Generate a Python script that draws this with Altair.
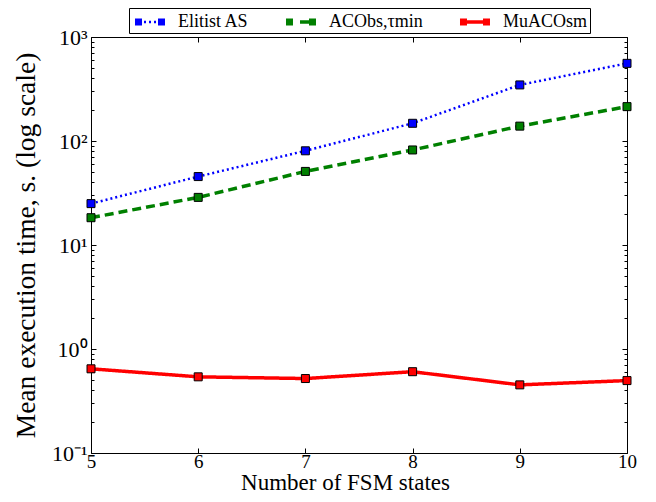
import altair as alt
import pandas as pd

# ---- data ----
states = [5, 6, 7, 8, 9, 10]
series_names = ["Elitist AS", "ACObs,τmin", "MuACOsm"]
elitist_as = [25.0, 45.5, 80.5, 148.0, 346.0, 558.0]
aco_bs_tmin = [18.3, 28.7, 51.0, 82.0, 139.0, 214.0]
muaco_sm = [0.645, 0.54, 0.52, 0.605, 0.452, 0.497]

x_tick_values = [5, 6, 7, 8, 9, 10]
y_major_ticks = [0.1, 1, 10, 100, 1000]
y_minor_ticks = [0.2, 0.3, 0.4, 0.5, 0.6, 0.7, 0.8, 0.9,
                 2, 3, 4, 5, 6, 7, 8, 9,
                 20, 30, 40, 50, 60, 70, 80, 90,
                 200, 300, 400, 500, 600, 700, 800, 900]

# ---- styles ----
colors = ["#0000ff", "#008000", "#ff0000"]
dash_styles = [[2, 3], [9, 5], [1, 0]]
line_widths = [2.5, 3.5, 3.5]
SQ_L = "M-0.667,-0.292h0.583v0.583h-0.583Z"
SQ_R = "M1.25,-0.292h0.583v0.583h-0.583Z"
legend_paths = [
    SQ_L + SQ_R + "M0.083,-0.104h0.167v0.208h-0.167Z"
    "M0.5,-0.104h0.167v0.208h-0.167Z"
    "M0.917,-0.104h0.167v0.208h-0.167Z",
    SQ_L + SQ_R + "M0.5,-0.146h0.75v0.292h-0.75Z",
    SQ_L + SQ_R + "M-0.083,-0.146h1.333v0.292h-1.333Z",
]
FONT = "Liberation Serif"
W, H = 536, 416

rows = []
for name, vals in zip(series_names, [elitist_as, aco_bs_tmin, muaco_sm]):
    for s, v in zip(states, vals):
        rows.append({"series": name, "states": s, "time": v})
df = pd.DataFrame(rows)

xscale = alt.Scale(domain=[5, 10], nice=False, zero=False)
yscale = alt.Scale(type="log", domain=[0.1, 1000], nice=False)
cscale = alt.Scale(domain=series_names, range=colors)

label_expr = ("datum.value == 1000 ? '10\u00b3' : datum.value == 100 ? '10\u00b2' : "
              "datum.value == 10 ? '10\u00b9' : datum.value == 1 ? '10\u2070' : '10\u207b\u00b9'")

COMMON = dict(domain=False, grid=False, labelFlush=False, labelOverlap=False,
              tickColor="black", tickWidth=1)


def tick_axis(orient, values, size, offset):
    # inward ticks: axis on the opposite side, moved onto this edge
    return alt.Axis(orient=orient, values=values, tickSize=size, offset=offset,
                    labels=False, title=None, **COMMON)


ax_bottom_labels = alt.Axis(orient="bottom", values=x_tick_values, format="d", tickSize=0,
                            labelFontSize=19, labelPadding=-1, title="Number of FSM states",
                            titleFontSize=23, titleX=254, titleY=41, titleBaseline="bottom",
                            **COMMON)
ax_left_labels = alt.Axis(orient="left", values=y_major_ticks, labelExpr=label_expr, tickSize=0,
                          labelFontSize=22, labelPadding=4,
                          title="Mean execution time, s. (log scale)", titleFontSize=27.5,
                          titleX=-65, titleY=208, titleBaseline="middle", **COMMON)
ax_bottom_ticks = tick_axis("top", x_tick_values, 5, -H)
ax_top_ticks = tick_axis("bottom", x_tick_values, 5, -H)
ax_left_major = tick_axis("right", y_major_ticks, 5, -W)
ax_right_major = tick_axis("left", y_major_ticks, 5, -W)
ax_left_minor = tick_axis("right", y_minor_ticks, 3, -W)
ax_right_minor = tick_axis("left", y_minor_ticks, 3, -W)

x_axes = [ax_bottom_labels, ax_bottom_ticks, ax_top_ticks]
y_axes = [ax_left_labels, ax_left_major, ax_right_major]

base = alt.Chart(df)
leg = alt.Legend(orient="none", legendX=38, legendY=-29, direction="horizontal", title=None,
                 strokeColor="black", fillColor="white", padding=2, symbolSize=576,
                 symbolStrokeWidth=0, symbolOpacity=1, labelFont=FONT, labelFontSize=18,
                 labelColor="black", labelOffset=23, columnPadding=33, labelLimit=400,
                 cornerRadius=0)
layers = [
    base.transform_filter("false").mark_point(filled=True, opacity=1)
    .encode(
        color=alt.Color("series:N", scale=cscale, legend=leg),
        shape=alt.Shape("series:N", scale=alt.Scale(domain=series_names, range=legend_paths),
                        legend=leg),
    )
]
for i, name in enumerate(series_names):
    layers.append(
        base.transform_filter(alt.datum.series == name)
        .mark_line(strokeDash=dash_styles[i], strokeWidth=line_widths[i])
        .encode(
            x=alt.X("states:Q", scale=xscale, axis=x_axes[i]),
            y=alt.Y("time:Q", scale=yscale, axis=y_axes[i]),
            color=alt.Color("series:N", scale=cscale, legend=None),
        )
    )
layers.append(
    base.mark_square(size=64, opacity=1, filled=True, stroke="black", strokeWidth=1)
    .encode(
        x=alt.X("states:Q", scale=xscale, axis=None),
        y=alt.Y("time:Q", scale=yscale, axis=ax_left_minor),
        color=alt.Color("series:N", scale=cscale, legend=None),
    )
)
layers.append(
    base.transform_filter("false").mark_point(opacity=0)
    .encode(y=alt.Y("time:Q", scale=yscale, axis=ax_right_minor))
)

chart = (
    alt.layer(*layers)
    .resolve_axis(x="independent", y="independent")
    .properties(width=W, height=H, autosize=alt.AutoSizeParams(type="none"),
                padding={"left": 83, "top": 29, "right": 21, "bottom": 41},
                background="white")
    .configure(font=FONT)
    .configure_view(stroke="black", strokeWidth=1)
    .configure_axis(labelFont=FONT, titleFont=FONT, labelColor="black", titleColor="black",
                    titleFontWeight="normal")
    .configure_legend(labelFont=FONT, labelFontSize=18, labelColor="black")
)

spec = chart.to_dict()
for lg in spec.get("layer", [{}])[0].get("encoding", {}).values():
    if isinstance(lg, dict) and isinstance(lg.get("legend"), dict):
        lg["legend"]["encode"] = {"labels": {"update": {"font": {"value": FONT}}}}
try:
    chart = alt.Chart.from_dict(spec, validate=True)
except Exception:
    pass

chart.save("out.html", embed_options={"renderer": "svg", "actions": False})
